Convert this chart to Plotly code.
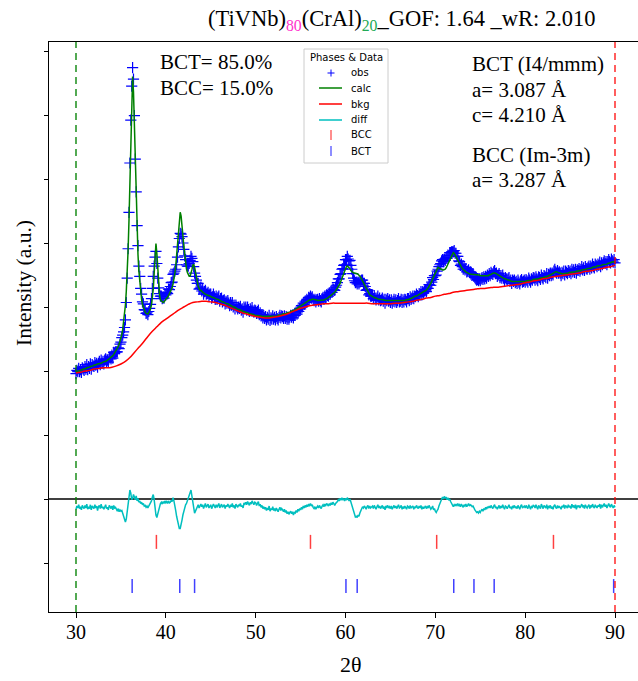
import numpy as np
import plotly.graph_objects as go

# ---- scan grid (2-theta, degrees) ----
TTH_START = 30.0
TTH_STEP = 0.1
N_POINTS = 601
tth = np.round(TTH_START + TTH_STEP * np.arange(N_POINTS), 2)

# ---- calculated profile (a.u.), one value per scan step ----
calc = [
    199, 199, 200, 200, 201, 201, 202, 202, 203, 203,
    204, 204, 205, 205, 206, 206, 207, 207, 208, 208,
    209, 209, 210, 210, 211, 211, 212, 212, 212, 213,
    214, 214, 215, 215, 217, 217, 218, 219, 220, 221,
    223, 224, 226, 228, 230, 233, 236, 238, 242, 246,
    251, 257, 265, 275, 287, 303, 325, 353, 389, 436,
    498, 570, 633, 660, 636, 583, 519, 462, 417, 382,
    356, 338, 323, 312, 304, 299, 294, 292, 290, 289,
    289, 291, 294, 298, 303, 313, 328, 352, 382, 399,
    384, 355, 334, 319, 311, 309, 308, 307, 308, 311,
    312, 314, 315, 318, 320, 324, 327, 330, 336, 343,
    352, 364, 380, 400, 422, 440, 448, 442, 430, 412,
    395, 380, 370, 360, 354, 350, 348, 348, 352, 358,
    365, 367, 362, 354, 344, 337, 333, 329, 326, 326,
    324, 323, 322, 321, 320, 320, 319, 318, 318, 317,
    316, 316, 315, 315, 314, 313, 313, 312, 312, 311,
    310, 310, 309, 308, 308, 307, 307, 306, 305, 305,
    304, 303, 303, 302, 301, 300, 300, 299, 298, 298,
    297, 296, 296, 295, 294, 294, 293, 293, 292, 292,
    291, 291, 290, 290, 289, 289, 289, 288, 288, 287,
    287, 287, 287, 286, 286, 286, 286, 285, 285, 285,
    285, 285, 285, 285, 285, 285, 285, 285, 285, 285,
    286, 286, 286, 286, 286, 287, 287, 287, 288, 288,
    289, 289, 289, 290, 290, 291, 291, 292, 292, 293,
    294, 294, 295, 295, 296, 297, 297, 298, 299, 300,
    301, 302, 303, 304, 305, 306, 307, 308, 309, 310,
    311, 311, 312, 312, 312, 312, 311, 311, 311, 310,
    310, 310, 310, 310, 311, 311, 311, 312, 312, 313,
    314, 315, 316, 317, 318, 319, 320, 322, 323, 325,
    327, 329, 332, 334, 337, 341, 344, 348, 352, 356,
    360, 363, 364, 363, 362, 360, 357, 355, 354, 353,
    353, 353, 353, 352, 351, 350, 348, 346, 344, 341,
    338, 335, 332, 329, 326, 323, 321, 319, 318, 317,
    316, 315, 315, 314, 314, 313, 313, 312, 312, 312,
    311, 311, 311, 311, 310, 310, 310, 310, 310, 310,
    309, 309, 309, 309, 309, 309, 309, 309, 309, 309,
    309, 309, 309, 310, 310, 310, 310, 311, 311, 311,
    312, 312, 313, 313, 314, 315, 316, 316, 317, 317,
    318, 318, 319, 320, 321, 322, 323, 324, 325, 325,
    326, 328, 330, 332, 334, 337, 340, 344, 347, 351,
    355, 358, 361, 362, 361, 360, 359, 358, 358, 358,
    358, 359, 361, 364, 366, 369, 372, 376, 380, 383,
    385, 384, 382, 379, 376, 373, 370, 367, 364, 362,
    360, 359, 357, 356, 355, 354, 353, 352, 352, 351,
    351, 351, 350, 350, 350, 350, 350, 350, 350, 350,
    349, 349, 349, 349, 349, 348, 348, 348, 349, 349,
    350, 350, 351, 352, 353, 353, 353, 353, 352, 351,
    350, 349, 348, 347, 346, 346, 345, 344, 344, 343,
    343, 342, 342, 341, 341, 340, 340, 340, 339, 339,
    339, 339, 339, 339, 339, 339, 339, 340, 340, 340,
    340, 340, 341, 341, 341, 341, 342, 342, 342, 343,
    343, 343, 343, 344, 344, 344, 345, 345, 345, 346,
    346, 346, 347, 347, 348, 348, 349, 349, 350, 351,
    352, 353, 354, 355, 355, 355, 354, 354, 353, 353,
    352, 352, 352, 352, 352, 353, 353, 353, 353, 354,
    354, 354, 354, 355, 355, 355, 355, 356, 356, 356,
    357, 357, 357, 358, 358, 358, 359, 359, 359, 360,
    360, 360, 361, 361, 361, 362, 362, 362, 363, 363,
    364, 364, 364, 365, 365, 365, 366, 366, 366, 367,
    367, 367, 368, 368, 369, 369, 370, 370, 371, 371,
    369,
]

# ---- residual obs - calc (a.u.), same grid ----
resid = [
    -3, 2, -1, 4, -2, 1, -4, 3, 0, -2,
    3, -1, 5, -3, 1, -2, 4, -4, 2, 0,
    -2, 4, -1, 2, -5, 1, 3, -2, 5, -1,
    1, -3, 2, 4, -2, 0, -4, 3, 1, -2,
    2, -4, 3, -1, 0, -3, -6, -2, -7, -4,
    -6, -5, -9, -14, -19, -23, -18, -8, 2, 12,
    27, 22, 12, 14, 20, 16, 12, 18, 10, 14,
    8, 10, 6, 8, 4, 6, 2, 3, 0, 2,
    -1, 2, 4, 6, 10, 16, 20, 12, -4, -12,
    -16, -10, -4, 2, 6, 8, 5, 9, 6, 10,
    7, 9, 6, 10, 7, 8, 11, 9, 15, 10,
    4, -5, -14, -22, -28, -33, -33, -28, -20, -12,
    -5, 0, 4, 6, 10, 14, 20, 25, 27, 18,
    6, -4, -9, -6, -2, 0, 4, -1, 3, 5,
    1, 4, -2, 3, 6, 0, 2, 5, -1, 3,
    4, -2, 1, 5, 2, -1, 4, 0, 3, 6,
    -1, 3, 5, 0, 2, 4, -2, 3, 1, 5,
    2, -1, 4, 1, 6, 0, 3, -2, 5, 2,
    0, 4, 2, 6, 1, 3, -1, 7, 5, 8,
    4, 9, 6, 3, 8, 5, 10, 6, 4, 8,
    7, 3, 6, 9, 2, 5, 0, 3, -2, 1,
    -3, 0, -5, -1, -4, 2, -6, -2, -4, 1,
    -5, -2, -6, -1, -4, -7, -3, 0, -5, -2,
    -4, -7, -3, -8, -5, -10, -7, -11, -8, -6,
    -10, -7, -12, -8, -9, -5, -8, -3, -6, -2,
    -4, 0, -3, 2, -1, 3, 0, 4, 1, 5,
    3, 6, 2, 4, 0, -2, 1, -3, 0, 2,
    -1, 3, 0, -2, 2, 4, 1, 5, 3, 6,
    4, 2, 6, 3, 7, 4, 8, 5, 3, 6,
    7, 9, 12, 10, 14, 11, 15, 12, 13, 10,
    14, 11, 15, 12, 10, 13, 8, 4, -2, -8,
    -12, -15, -14, -16, -12, -14, -9, -5, -2, 1,
    -1, 2, 0, -3, 1, 3, -2, 2, -1, 0,
    2, -2, 3, 0, -3, 1, 4, -1, 2, -2,
    0, 3, -2, 1, -4, 2, 0, 3, -1, 1,
    -2, 2, -3, 0, 3, -1, 2, -2, 1, 4,
    -1, 0, 3, -3, 1, -2, 2, 0, -3, 2,
    1, -2, 3, -1, 0, 2, -3, 1, -1, 3,
    0, -2, 2, -1, 3, -3, 1, -2, 0, 2,
    -2, 1, -1, 3, 0, -3, -1, 2, -4, -2,
    -6, -8, -5, -3, 2, 6, 9, 14, 16, 13,
    17, 14, 16, 12, 15, 11, 13, 9, 6, 3,
    1, 4, 2, 5, 3, 6, 2, 4, 1, 5,
    3, 0, 4, 2, 5, 1, 3, 6, 2, 4,
    3, 1, 2, -2, -4, -6, -8, -7, -9, -6,
    -8, -5, -3, -6, -2, -4, 0, -3, 1, -1,
    2, -1, 3, 0, -2, 2, 4, -1, 1, -3,
    0, 3, -2, 2, -1, 4, 0, -3, 2, 1,
    -2, 2, 4, -1, 1, -3, 2, 0, 3, -1,
    1, -2, 3, 0, -3, 2, 4, -1, 0, 2,
    -1, 3, 0, -2, 4, 1, -3, 2, 0, 3,
    2, -1, 4, 0, -3, 3, 1, -2, 5, 0,
    -2, 3, 1, -1, 4, -3, 2, 0, 3, -2,
    1, -3, 2, 4, 0, -2, 3, -1, 2, 0,
    -3, 2, 0, 4, -2, 3, 1, -1, 4, 0,
    2, -2, 5, 0, 3, -1, 4, -3, 2, 1,
    3, -1, 2, 5, 0, 3, -2, 4, 1, -1,
    2, 4, -2, 3, 0, 5, 1, -1, 4, 2,
    -1, 3, 1, 5, -2, 4, 0, 3, 6, 1,
    4, -1, 3, 6, 2, 0, 5, 2, -1, 3,
    0,
]

# ---- refined background, every 0.5 deg ----
bkg_tth = np.round(30.0 + 0.5 * np.arange(121), 1)
bkg = [
    197, 198, 200, 201, 203, 204, 205, 205, 206, 208,
    211, 215, 221, 229, 237, 245, 254, 262, 269, 276,
    281, 286, 291, 296, 300, 304, 307, 308, 309, 309,
    308, 307, 305, 303, 300, 297, 294, 291, 289, 287,
    285, 284, 283, 283, 284, 285, 287, 289, 292, 295,
    298, 300, 302, 303, 304, 305, 305, 306, 306, 306,
    306, 306, 306, 306, 306, 306, 305, 305, 305, 305,
    305, 306, 306, 307, 308, 309, 311, 312, 314, 315,
    317, 318, 320, 321, 323, 324, 325, 326, 327, 328,
    329, 329, 330, 331, 331, 332, 333, 334, 335, 336,
    338, 339, 341, 342, 344, 345, 347, 348, 349, 350,
    351, 352, 353, 355, 356, 357, 359, 360, 362, 363,
    365,
]

# ---- reflection positions (2-theta) ----
bcc_refl = [38.95, 56.1, 70.15, 83.15]
bct_refl = [36.25, 41.55, 43.2, 60.05, 61.3, 72.05, 74.3, 76.55, 89.85]

# ---- refinement results ----
bct_wt, bcc_wt = 85.0, 15.0
gof, wr = 1.64, 2.010
bct_a, bct_c = 3.087, 4.210
bcc_a = 3.287

DIFF_OFFSET = -13      # residual curve drawn just under the zero line
BCC_ROW, BCT_ROW = -67, -136

calc_arr = np.array(calc, dtype=float)
obs = calc_arr + np.array(resid, dtype=float)
diff = np.array(resid, dtype=float) + DIFF_OFFSET

SERIF = "Liberation Serif"
SANS = "DejaVu Sans"

W, H = 638, 681
ML, MR, MT, MB = 49, 0, 42, 69
PW, PH = W - ML - MR, H - MT - MB


def px(x):
    return (x - ML) / PW


def py(y):
    return (H - MB - y) / PH


fig = go.Figure()

fig.add_trace(go.Scatter(
    x=tth, y=obs, mode="markers", name="obs",
    marker=dict(symbol="cross-thin", size=8, color="blue",
                line=dict(width=1.2, color="blue")),
))
fig.add_trace(go.Scatter(x=tth, y=calc_arr, mode="lines", name="calc",
                         line=dict(color="green", width=1.5)))
fig.add_trace(go.Scatter(x=bkg_tth, y=bkg, mode="lines", name="bkg",
                         line=dict(color="red", width=1.5, shape="spline")))
fig.add_trace(go.Scatter(x=tth, y=diff, mode="lines", name="diff",
                         line=dict(color="#00bfbf", width=1.5)))
fig.add_trace(go.Scatter(
    x=bcc_refl, y=[BCC_ROW] * len(bcc_refl), mode="markers", name="BCC",
    marker=dict(symbol="line-ns", size=10,
                line=dict(width=1.5, color="rgba(255,0,0,0.75)")),
))
fig.add_trace(go.Scatter(
    x=bct_refl, y=[BCT_ROW] * len(bct_refl), mode="markers", name="BCT",
    marker=dict(symbol="line-ns", size=10,
                line=dict(width=1.5, color="rgba(0,0,255,0.75)")),
))

shapes = [
    # zero line
    dict(type="line", xref="paper", yref="y", x0=0, x1=1, y0=0, y1=0,
         line=dict(color="black", width=1.5), layer="below"),
    # scan limits
    dict(type="line", xref="x", yref="paper", x0=TTH_START, x1=TTH_START, y0=0, y1=1,
         line=dict(color="rgba(0,128,0,0.75)", width=1.8, dash="7px,5px")),
    dict(type="line", xref="x", yref="paper", x0=tth[-1], x1=tth[-1], y0=0, y1=1,
         line=dict(color="rgba(255,0,0,0.7)", width=1.8, dash="7px,5px")),
    # legend frame
    dict(type="rect", xref="paper", yref="paper",
         x0=px(304), x1=px(388), y0=py(163), y1=py(49),
         line=dict(color="#cccccc", width=1), fillcolor="rgba(255,255,255,0.85)"),
]

# legend glyphs
lx0, lx1, lxc = 319, 342, 331
rows = {"obs": 73, "calc": 88, "bkg": 104, "diff": 120, "BCC": 135, "BCT": 151}
shapes += [
    dict(type="line", xref="paper", yref="paper", x0=px(lxc - 3.5), x1=px(lxc + 3.5),
         y0=py(rows["obs"]), y1=py(rows["obs"]), line=dict(color="blue", width=1)),
    dict(type="line", xref="paper", yref="paper", x0=px(lxc), x1=px(lxc),
         y0=py(rows["obs"] - 3.5), y1=py(rows["obs"] + 3.5), line=dict(color="blue", width=1)),
    dict(type="line", xref="paper", yref="paper", x0=px(lx0), x1=px(lx1),
         y0=py(rows["calc"]), y1=py(rows["calc"]), line=dict(color="green", width=1.5)),
    dict(type="line", xref="paper", yref="paper", x0=px(lx0), x1=px(lx1),
         y0=py(rows["bkg"]), y1=py(rows["bkg"]), line=dict(color="red", width=1.5)),
    dict(type="line", xref="paper", yref="paper", x0=px(lx0), x1=px(lx1),
         y0=py(rows["diff"]), y1=py(rows["diff"]), line=dict(color="#00bfbf", width=1.5)),
    dict(type="line", xref="paper", yref="paper", x0=px(lxc), x1=px(lxc),
         y0=py(rows["BCC"] - 5), y1=py(rows["BCC"] + 5),
         line=dict(color="rgba(255,0,0,0.6)", width=1.5)),
    dict(type="line", xref="paper", yref="paper", x0=px(lxc), x1=px(lxc),
         y0=py(rows["BCT"] - 5), y1=py(rows["BCT"] + 5),
         line=dict(color="rgba(0,0,255,0.6)", width=1.5)),
]

annotations = []


def text(x, y, s, size, family=SERIF, xanchor="left", color="black", **kw):
    annotations.append(dict(x=px(x), y=py(y), xref="paper", yref="paper", text=s,
                            showarrow=False, xanchor=xanchor, yanchor="middle",
                            font=dict(family=family, size=size, color=color), **kw))


title = ("(TiVNb)<sub><span style='color:#ff33cc'>80</span></sub>"
         "(CrAl)<sub><span style='color:#22aa55'>20</span></sub>"
         f"_GOF: {gof:.2f} _wR: {wr:.3f}")
text(402, 20, title, 22.5, xanchor="center")
text(24, 283, "Intensity (a.u.)", 21.5, xanchor="center", textangle=-90)
text(351, 664, "2θ", 22, xanchor="center")

text(158, 62, f"BCT= {bct_wt:.1f}%", 21)
text(158, 88, f"BCC= {bcc_wt:.1f}%", 21)

text(470, 64, "BCT (I4/mmm)", 21)
text(470, 90, f"a= {bct_a:.3f} Å", 21)
text(470, 115, f"c= {bct_c:.3f} Å", 21)
text(470, 155, "BCC (Im-3m)", 21)
text(470, 180, f"a= {bcc_a:.3f} Å", 21)

text(346, 58, "Phases &amp; Data", 10, family=SANS, xanchor="center")
for name, yrow in rows.items():
    text(349, yrow, name, 10, family=SANS)

x_lo = TTH_START - (76 - ML) / (539 / 60)
x_hi = x_lo + PW / (539 / 60)
y_unit = 0.64  # pixels per a.u.
y_hi = (499 - MT) / y_unit
y_lo = (499 - (H - MB)) / y_unit

fig.update_layout(
    width=W, height=H,
    margin=dict(l=ML, r=MR, t=MT, b=MB, pad=0),
    paper_bgcolor="white", plot_bgcolor="white",
    showlegend=False,
    shapes=shapes, annotations=annotations,
    xaxis=dict(range=[x_lo, x_hi], tickvals=[30, 40, 50, 60, 70, 80, 90],
               ticks="outside", ticklen=5, tickwidth=1, tickcolor="black",
               ticklabelstandoff=-3,
               tickfont=dict(family=SERIF, size=20, color="black"),
               showline=True, linecolor="black", linewidth=1, mirror=True,
               showgrid=False, zeroline=False),
    yaxis=dict(range=[y_lo, y_hi], tickvals=list(range(-100, 701, 100)),
               ticks="outside", ticklen=4, tickwidth=1, tickcolor="black",
               showticklabels=False,
               showline=True, linecolor="black", linewidth=1, mirror=False,
               showgrid=False, zeroline=False),
)

fig.write_html("out.html")
